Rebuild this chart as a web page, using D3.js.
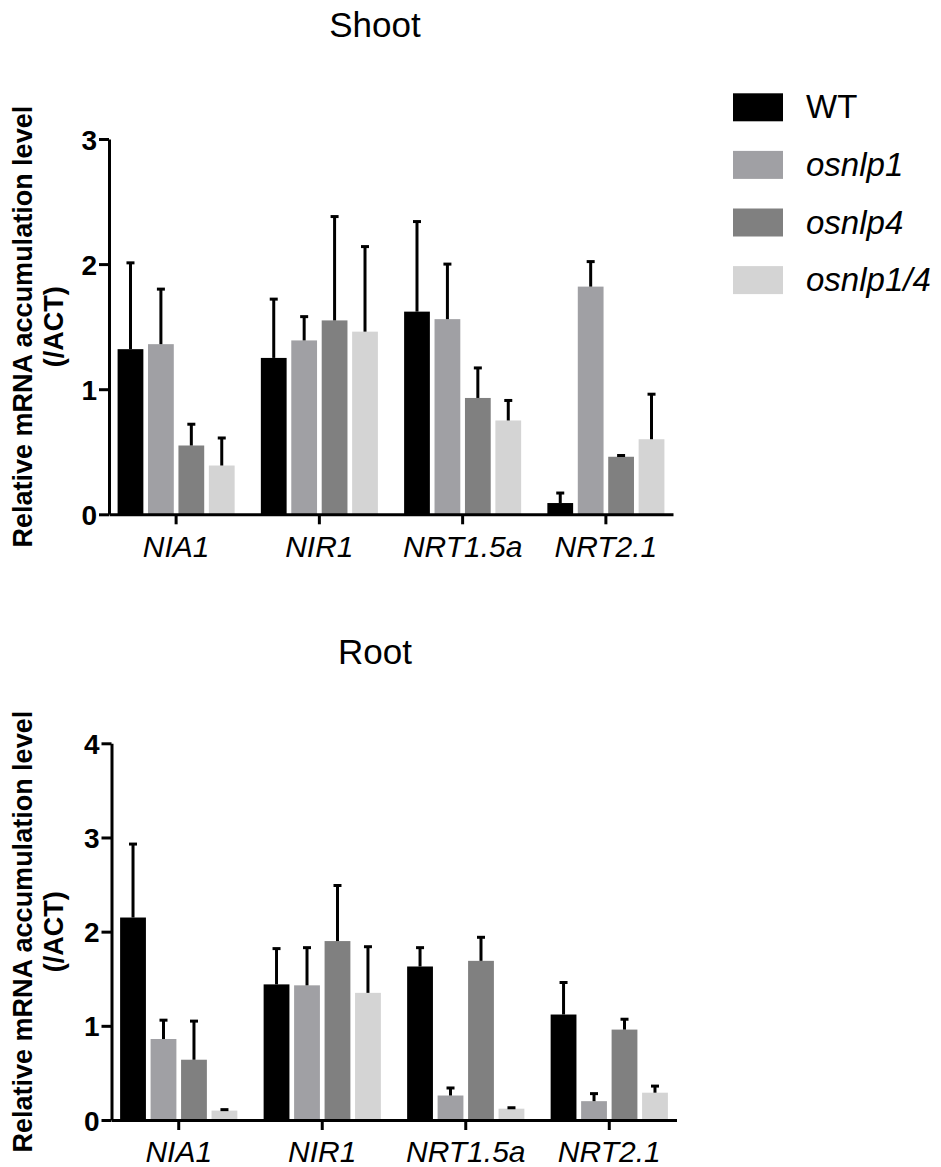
<!DOCTYPE html>
<html>
<head>
<meta charset="utf-8">
<script src="https://cdn.jsdelivr.net/npm/d3@7"></script>
<style>
  html, body { margin: 0; padding: 0; background: #fff; }
  svg { display: block; }
  text { font-family: "Liberation Sans", Arial, sans-serif; fill: #000; }
</style>
</head>
<body>
<script>
// ---------- data ----------
const categories = ["NIA1", "NIR1", "NRT1.5a", "NRT2.1"];
const seriesNames = ["WT", "osnlp1", "osnlp4", "osnlp1/4"];
const seriesColors = ["#000000", "#a0a0a4", "#808080", "#d4d4d4"];

// Shoot: means and SD (upper error)
const shootWT        = [1.32, 1.25, 1.62, 0.09];
const shootWTsd      = [0.69, 0.47, 0.72, 0.08];
const shootOsnlp1    = [1.36, 1.39, 1.56, 1.82];
const shootOsnlp1sd  = [0.44, 0.19, 0.44, 0.20];
const shootOsnlp4    = [0.55, 1.55, 0.93, 0.46];
const shootOsnlp4sd  = [0.17, 0.83, 0.24, 0.01];
const shootOsnlp14   = [0.39, 1.46, 0.75, 0.60];
const shootOsnlp14sd = [0.22, 0.68, 0.16, 0.36];

// Root
const rootWT         = [2.15, 1.44, 1.63, 1.12];
const rootWTsd       = [0.78, 0.38, 0.20, 0.34];
const rootOsnlp1     = [0.86, 1.43, 0.26, 0.20];
const rootOsnlp1sd   = [0.20, 0.40, 0.08, 0.08];
const rootOsnlp4     = [0.64, 1.90, 1.69, 0.96];
const rootOsnlp4sd   = [0.41, 0.59, 0.25, 0.11];
const rootOsnlp14    = [0.10, 1.35, 0.12, 0.29];
const rootOsnlp14sd  = [0.01, 0.49, 0.01, 0.07];

const shootTicks = [0, 1, 2, 3];
const rootTicks  = [0, 1, 2, 3, 4];

const yTitle1 = "Relative mRNA accumulation level";
const yTitle2 = "(/ACT)";

// ---------- drawing ----------
const W = 941, H = 1167;
const svg = d3.select("body").append("svg").attr("width", W).attr("height", H);

function buildRows(means, sds) {
  return categories.map((c, i) => ({
    cat: c,
    vals: seriesNames.map((s, k) => ({ s, k, v: means[k][i], e: sds[k][i] }))
  }));
}

function panel(opts) {
  const { title, titleY, left, right, top, bottom, yMax, ticks, rows } = opts;
  const g = svg.append("g");

  const x0 = d3.scaleBand().domain(categories).range([left, right])
    .paddingInner(0.183).paddingOuter(0.06);
  const x1 = d3.scaleBand().domain(seriesNames).range([0, x0.bandwidth()])
    .paddingInner(0.153).paddingOuter(0);
  const y = d3.scaleLinear().domain([0, yMax]).range([bottom, top]);
  const color = d3.scaleOrdinal().domain(seriesNames).range(seriesColors);

  // title
  g.append("text").attr("x", 375).attr("y", titleY)
    .attr("text-anchor", "middle").style("font-size", "35px").text(title);

  // bars
  const grp = g.selectAll(".grp").data(rows).join("g")
    .attr("transform", d => `translate(${x0(d.cat)},0)`);
  grp.selectAll("rect").data(d => d.vals).join("rect")
    .attr("x", d => x1(d.s)).attr("width", x1.bandwidth())
    .attr("y", d => y(d.v)).attr("height", d => y(0) - y(d.v))
    .attr("fill", d => color(d.s));

  // error bars (upper only)
  const eb = grp.selectAll(".eb").data(d => d.vals).join("g");
  eb.append("line")
    .attr("x1", d => x1(d.s) + x1.bandwidth() / 2)
    .attr("x2", d => x1(d.s) + x1.bandwidth() / 2)
    .attr("y1", d => y(d.v)).attr("y2", d => y(d.v + d.e))
    .attr("stroke", "#000").attr("stroke-width", 3);
  eb.append("line")
    .attr("x1", d => x1(d.s) + x1.bandwidth() / 2 - 4)
    .attr("x2", d => x1(d.s) + x1.bandwidth() / 2 + 4)
    .attr("y1", d => y(d.v + d.e)).attr("y2", d => y(d.v + d.e))
    .attr("stroke", "#000").attr("stroke-width", 3);

  // y axis
  const ya = g.append("g").attr("transform", `translate(${left},0)`)
    .call(d3.axisLeft(y).tickValues(ticks).tickFormat(d3.format("d"))
      .tickSize(10).tickSizeOuter(0).tickPadding(2));
  ya.selectAll("path, line").attr("stroke", "#000").attr("stroke-width", 3);
  ya.selectAll("text").style("font-size", "28px").style("font-weight", "bold")
    .attr("dy", "0.36em");

  // x axis
  const xa = g.append("g").attr("transform", `translate(0,${bottom})`)
    .call(d3.axisBottom(x0).tickSize(10).tickSizeOuter(0).tickPadding(11));
  xa.selectAll("path, line").attr("stroke", "#000").attr("stroke-width", 3);
  xa.selectAll("text").style("font-size", "30px").style("font-style", "italic");

  // y title
  const cy = (top + bottom) / 2;
  g.append("text").attr("transform", `translate(31.5,${cy}) rotate(-90)`)
    .attr("text-anchor", "middle").style("font-size", "27px").style("font-weight", "bold")
    .text(yTitle1);
  g.append("text").attr("transform", `translate(62.5,${cy}) rotate(-90)`)
    .attr("text-anchor", "middle").style("font-size", "27px").style("font-weight", "bold")
    .text(yTitle2);
}

panel({
  title: "Shoot", titleY: 36.5, left: 109, right: 673, top: 139, bottom: 514.3,
  yMax: 3, ticks: shootTicks,
  rows: buildRows([shootWT, shootOsnlp1, shootOsnlp4, shootOsnlp14],
                  [shootWTsd, shootOsnlp1sd, shootOsnlp4sd, shootOsnlp14sd])
});

panel({
  title: "Root", titleY: 664, left: 111.5, right: 676.5, top: 743.3, bottom: 1120,
  yMax: 4, ticks: rootTicks,
  rows: buildRows([rootWT, rootOsnlp1, rootOsnlp4, rootOsnlp14],
                  [rootWTsd, rootOsnlp1sd, rootOsnlp4sd, rootOsnlp14sd])
});

// legend
const leg = svg.append("g").attr("transform", "translate(733,93.3)");
const li = leg.selectAll("g").data(seriesNames).join("g")
  .attr("transform", (d, i) => `translate(0,${i * 57.6})`);
li.append("rect").attr("width", 50).attr("height", 28)
  .attr("fill", (d, i) => seriesColors[i]);
li.append("text").attr("x", 73).attr("y", 25)
  .style("font-size", "33px")
  .style("font-style", (d, i) => i === 0 ? "normal" : "italic")
  .text(d => d);
</script>
</body>
</html>
